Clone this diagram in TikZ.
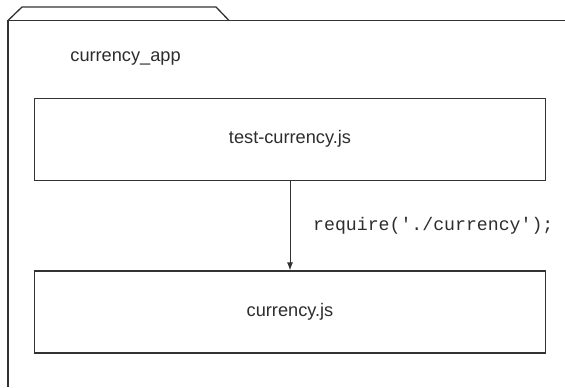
\documentclass[tikz,border=0pt]{standalone}
\usepackage{fontspec}
\setmainfont{Liberation Sans}
\setmonofont{Liberation Mono}
\usepackage{tikz}
\usetikzlibrary{arrows.meta,positioning}

\definecolor{linegray}{RGB}{50,50,50}
\definecolor{textgray}{RGB}{45,45,45}

\tikzset{
  filebox/.style={draw=linegray, line width=0.65pt, minimum width=255.75pt, minimum height=41pt,
    text=textgray, font=\fontsize{9.1}{11}\selectfont},
  folderline/.style={draw=linegray, line width=0.65pt},
  dep/.style={draw=linegray, line width=0.5pt, -{Latex[length=4pt,width=3pt]}}
}

\begin{document}
\begin{tikzpicture}[x=0.5pt,y=-0.5pt]
        \useasboundingbox (0,0) rectangle (565,387);
        % folder outline
        \coordinate (f1) at (8,387);
        \coordinate (f2) at (8,20.5);
        \coordinate (f3) at (565,20.5);
        \draw[folderline] (f1) -- (f2) -- (f3);
        \draw[folderline] (f2) -- (22,7) -- (216,7) -- (229,20.5);
        \node[anchor=west, text=textgray, font=\fontsize{9.1}{11}\selectfont, inner sep=0pt] (app) at (70,58) {currency\_app};

        \node[filebox] (test) at (290,139.25) {test-currency.js};
        \node[filebox, below=44.75pt of test] (cur) {currency.js};

        \draw[dep] (test) -- node[right, xshift=8pt, text=textgray, font=\ttfamily\fontsize{9.1}{11}\selectfont] {require('./currency');} (cur);
    \end{tikzpicture}
\end{document}
